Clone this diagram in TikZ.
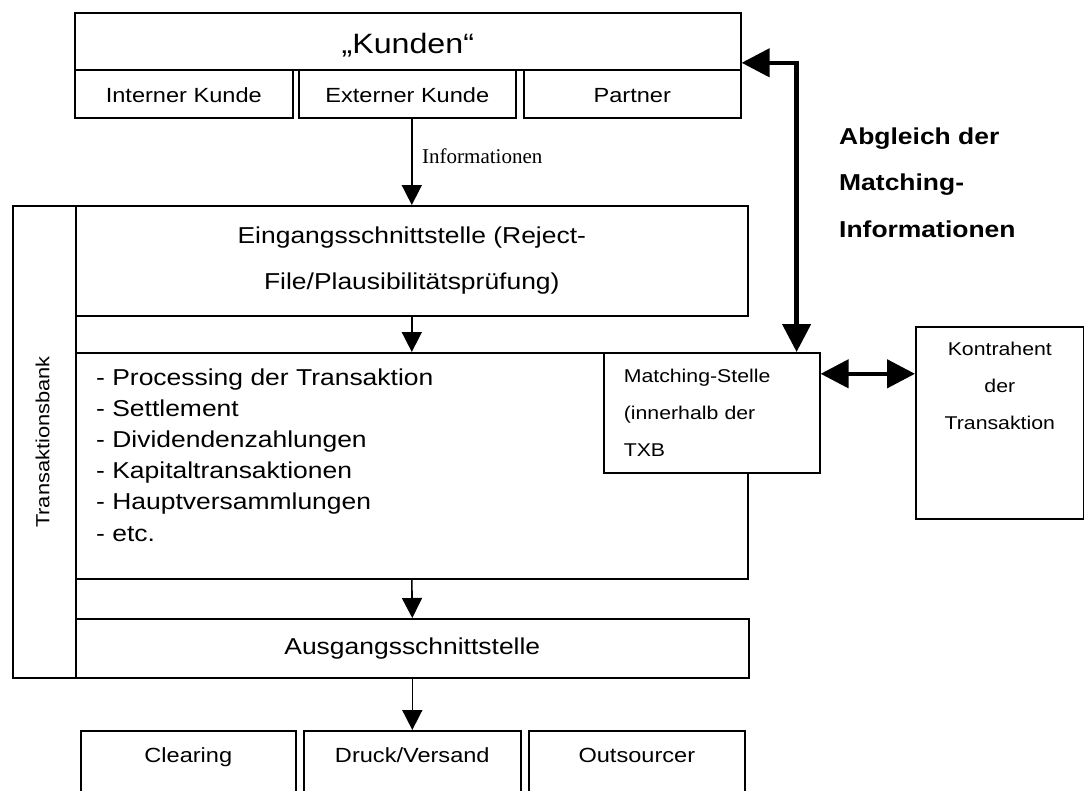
\documentclass[tikz,border=0pt]{standalone}
\usepackage{fontspec}
\setmainfont{Liberation Sans}[FakeStretch=1.15]
\newfontfamily\serifinfo{Liberation Serif}
\usetikzlibrary{%
  arrows.meta
}

\tikzset{
  box/.style={draw, line width=1.6pt, inner sep=0pt, anchor=north west, fill=white},
  subbox/.style={box, minimum height=48pt, text height=18pt, text depth=0pt,
    font=\fontsize{20.5}{25}\selectfont},
  txt/.style={inner sep=0pt},
  flow/.style={line width=1.6pt, -{Triangle[length=20pt,width=20pt]}},
  matchflow/.style={line width=4.5pt,
    {Triangle[length=28pt,width=28pt]}-{Triangle[length=28pt,width=28pt]}}
}

\begin{document}
\begin{tikzpicture}[x=1pt, y=-1pt]

  \useasboundingbox (0,0) rectangle (1084,790);
  \clip (0,0) rectangle (1084,790);

  \node[box, minimum width=666pt, minimum height=57pt, text height=25pt, text depth=0pt,
        font=\fontsize{28}{34}\selectfont] (kunden) at (74,12) {„Kunden“};
  \node[subbox, minimum width=218pt] (intern) at (74,69) {Interner Kunde};
  \node[subbox, minimum width=217pt] (extern) at (298,69) {Externer Kunde};
  \node[subbox, minimum width=217pt] (partner) at (523,69) {Partner};

  \node[txt, anchor=base west, font=\serifinfo\fontsize{21}{25}\selectfont] (info)
        at (422,163) {Informationen};

  \node[box, minimum width=63pt, minimum height=472pt] (bank) at (12,205) {};
  \node[txt, rotate=90, font=\fontsize{19}{23}\selectfont] (banktxt)
        at (42.5,442) {Transaktionsbank};

  \node[box, minimum width=672pt, minimum height=110pt, align=center,
        font=\fontsize{23}{46}\selectfont] (eingang) at (75,205)
        {Eingangsschnittstelle (Reject-\\File/Plausibilitätsprüfung)};

  \node[box, minimum width=672pt, minimum height=226pt] (proc) at (75,352) {};
  \node[txt, anchor=north west, align=left, font=\fontsize{23}{31.2}\selectfont] (proclist)
        at (96,368.2) {- Processing der Transaktion\\- Settlement\\- Dividendenzahlungen\\
        - Kapitaltransaktionen\\- Hauptversammlungen\\- etc.};

  \node[box, minimum width=216pt, minimum height=120pt, text width=176pt, align=left,
        font=\fontsize{18.5}{37}\selectfont] (match) at (603,352)
        {Matching-Stelle\\(innerhalb der\\TXB};

  \node[box, minimum width=168pt, minimum height=192pt] (kontra) at (915,326) {};
  \node[txt, anchor=north, align=center, font=\fontsize{18.5}{37}\selectfont] (kontratxt)
        at ([yshift=-15.5pt]kontra.north) {Kontrahent\\der\\Transaktion};

  \node[txt, anchor=north west, align=left, font=\bfseries\fontsize{23}{46.5}\selectfont]
        (abgleich) at (839,127.2) {Abgleich der\\Matching-\\Informationen};

  \node[box, minimum width=673pt, minimum height=59pt,
        font=\fontsize{23}{28}\selectfont] (ausgang) at (75,618) {Ausgangsschnittstelle};

  \node[box, minimum width=215pt, minimum height=90pt] (clearing) at (80,730) {};
  \node[box, minimum width=217pt, minimum height=90pt] (druck) at (303,730) {};
  \node[box, minimum width=216pt, minimum height=90pt] (outsrc) at (528,730) {};
  \node[txt, anchor=base, font=\fontsize{20.5}{25}\selectfont] (cleartxt)
        at ([yshift=-32pt]clearing.north) {Clearing};
  \node[txt, anchor=base, font=\fontsize{20.5}{25}\selectfont] (drucktxt)
        at ([yshift=-32pt]druck.north) {Druck/Versand};
  \node[txt, anchor=base, font=\fontsize{20.5}{25}\selectfont] (outsrctxt)
        at ([yshift=-32pt]outsrc.north) {Outsourcer};

  \draw[flow] (eingang.north |- extern.south) -- (eingang.north);
  \draw[flow] (eingang.south) -- (proc.north);
  \draw[flow] (proc.south) -- (ausgang.north);
  \draw[flow] (ausgang.south) -- (druck.north);

  \coordinate (kx) at ([yshift=-21.5pt]kunden.east);
  \coordinate (mt) at ([xshift=-24pt]match.north east);
  \coordinate (mx) at ([yshift=39pt]match.east);
  \draw[matchflow] (kx) -| (mt);
  \draw[matchflow] (mx) -- (mx -| kontra.west);

\end{tikzpicture}
\end{document}
